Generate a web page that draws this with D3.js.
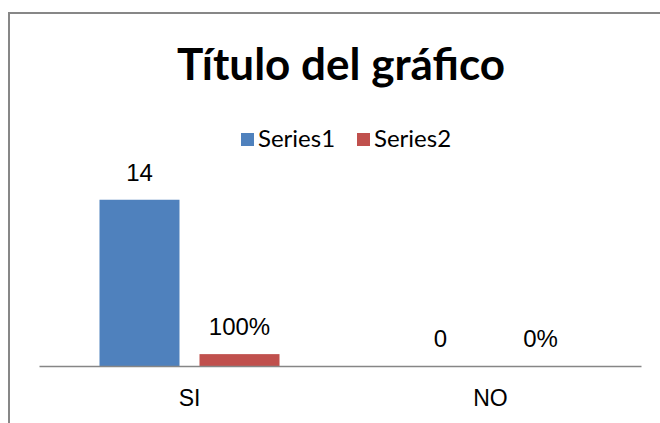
<!DOCTYPE html>
<html>
<head>
<meta charset="utf-8">
<script src="https://cdn.jsdelivr.net/npm/d3@7"></script>
<style>
  body { margin: 0; background: #fff; }
</style>
</head>
<body>
<div id="chart"></div>
<script>
// Data
const categories = ["SI", "NO"];
const seriesNames = ["Series1", "Series2"];
const series1 = [14, 0];
const series2 = [1, 0];   // shown as percent labels
const colors = ["#4F81BD", "#C0504D"];

const width = 660;
const height = 423;

const svg = d3.select("#chart")
  .append("svg")
  .attr("width", width)
  .attr("height", height);

// chart frame (runs off the right and bottom edges)
svg.append("rect")
  .attr("x", 9)
  .attr("y", 13)
  .attr("width", 700)
  .attr("height", 500)
  .attr("fill", "white")
  .attr("stroke", "#878787")
  .attr("stroke-width", 2);

// title
svg.append("text")
  .attr("x", 341)
  .attr("y", 80)
  .attr("text-anchor", "middle")
  .style("font-family", "Lato, sans-serif")
  .style("font-weight", "bold")
  .style("font-size", "44px")
  .style("fill", "#000")
  .text("Título del gráfico");

// scales
const x0 = d3.scaleBand()
  .domain(categories)
  .range([39, 641]);

const x1 = d3.scaleBand()
  .domain(seriesNames)
  .range([x0.bandwidth() / 2 - 90, x0.bandwidth() / 2 + 90])
  .paddingInner(0.2);

const y = d3.scaleLinear()
  .domain([0, 16])
  .range([366, 176]);

const table = categories.map(function(c, i) {
  return {
    category: c,
    values: [
      { key: "Series1", value: series1[i], label: d3.format("d")(series1[i]) },
      { key: "Series2", value: series2[i], label: d3.format(".0%")(series2[i]) }
    ]
  };
});

const groups = svg.selectAll(".group")
  .data(table)
  .enter()
  .append("g")
  .attr("class", "group")
  .attr("transform", function(d) { return "translate(" + x0(d.category) + ",0)"; });

groups.selectAll("rect")
  .data(function(d) { return d.values; })
  .enter()
  .append("rect")
  .attr("x", function(d) { return x1(d.key); })
  .attr("y", function(d) { return y(d.value); })
  .attr("width", x1.bandwidth())
  .attr("height", function(d) { return y(0) - y(d.value); })
  .attr("fill", function(d, i) { return colors[i]; });

// data labels
groups.selectAll(".label")
  .data(function(d) { return d.values; })
  .enter()
  .append("text")
  .attr("class", "label")
  .attr("x", function(d) { return x1(d.key) + x1.bandwidth() / 2; })
  .attr("y", function(d) { return y(d.value) - 19; })
  .attr("text-anchor", "middle")
  .style("font-family", "'Liberation Sans', Arial, sans-serif")
  .style("font-size", "24px")
  .style("fill", "#000")
  .text(function(d) { return d.label; });

// category axis
const xAxis = svg.append("g")
  .attr("transform", "translate(0," + y(0) + ")")
  .call(d3.axisBottom(x0).tickSize(0).tickPadding(24));

xAxis.select(".domain")
  .attr("stroke", "#868686")
  .attr("stroke-width", 1.5);

xAxis.selectAll("text")
  .style("font-family", "'Liberation Sans', Arial, sans-serif")
  .style("font-size", "23px")
  .style("fill", "#000");

// legend
const legend = svg.selectAll(".legend")
  .data(seriesNames)
  .enter()
  .append("g")
  .attr("class", "legend")
  .attr("transform", function(d, i) { return "translate(" + (241 + i * 116) + ",133)"; });

legend.append("rect")
  .attr("width", 13)
  .attr("height", 13)
  .attr("fill", function(d, i) { return colors[i]; });

legend.append("text")
  .attr("x", 17)
  .attr("y", 14)
  .style("font-family", "Lato, sans-serif")
  .style("font-size", "24px")
  .style("fill", "#000")
  .text(function(d) { return d; });
</script>
</body>
</html>
